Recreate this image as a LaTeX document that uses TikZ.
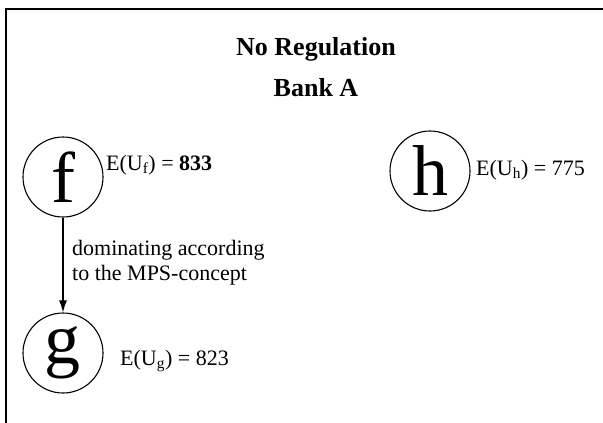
\documentclass[tikz,border=0pt]{standalone}
\usepackage{fontspec}
\setmainfont{Liberation Serif}
\usetikzlibrary{arrows.meta}
\begin{document}
\begin{tikzpicture}[x=1pt,y=-1pt,
  circ/.style={draw, circle, line width=1.1pt, minimum size=80pt, inner sep=0pt, font=\fontsize{72}{72}\selectfont},
  lbl/.style={anchor=base west, inner sep=0pt, font=\fontsize{22}{25}\selectfont},
  ttl/.style={anchor=base, inner sep=0pt, font=\fontsize{26}{30}\selectfont\bfseries},
  conn/.style={-{Latex[length=12pt,width=8pt]}, line width=1.2pt}]
\useasboundingbox (0,0) rectangle (603,423);
\coordinate (fb) at (6,423);
\coordinate (fc) at (6,9);
\coordinate (fr) at (603,9);
\draw[line width=2pt] (fb) -- (fc) -- (fr);
\node[ttl] (t1) at (316,56) {No Regulation};
\node[ttl] (t2) at (316,96) {Bank A};
\node[circ] (f) at (63,177) {f};
\node[circ] (g) at (63,353) {g};
\node[circ] (h) at (430,171) {h};
\node[lbl] (ef) at (106,170) {E(U\textsubscript{f}) = \textbf{833}};
\node[lbl] (eg) at (120,365) {E(U\textsubscript{g}) = 823};
\node[lbl] (eh) at (476,175) {E(U\textsubscript{h}) = 775};
\node[lbl] (d1) at (72,255) {dominating according};
\node[lbl] (d2) at (72,280) {to the MPS-concept};
\draw[conn] (f) -- (g);
\end{tikzpicture}
\end{document}
